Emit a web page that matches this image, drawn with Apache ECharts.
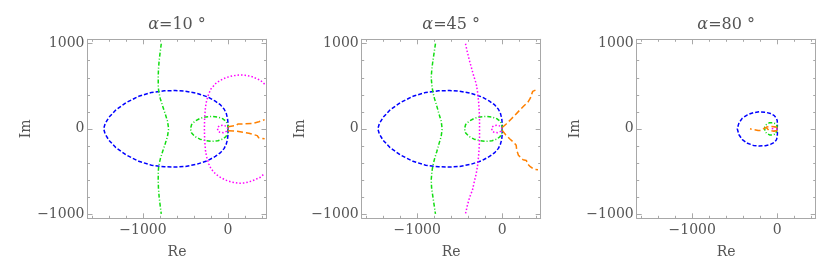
<!DOCTYPE html>
<html><head><meta charset="utf-8">
<script src="https://cdn.jsdelivr.net/npm/echarts@6/dist/echarts.min.js"></script>
<style>html,body{margin:0;padding:0;background:#fff}#c{width:830px;height:276px}</style>
</head><body><div id="c"></div>
<script>
// ---- tick labels / titles ----
const panelAngles = ['10', '45', '80'];
const xMajorTicks = [-1000, 0];
const yMajorTicks = [-1000, 0, 1000];
const xMinorTicks = [-1600, -1400, -1200, -800, -600, -400, -200, 200, 400];
const yMinorTicks = [-800, -600, -400, -200, 200, 400, 600, 800];

// ---- alpha = 10 deg ----
const blue10 = [[0,0],[0,60],[-6,120],[-20,178],[-45,230],[-88,280],[-150,325],[-240,375],[-370,418],[-500,442],[-620,450],[-750,446],[-900,428],[-1050,382],[-1200,306],[-1320,220],[-1400,135],[-1445,60],[-1462,0],
  [-1445,-60],[-1400,-135],[-1320,-220],[-1200,-306],[-1050,-382],[-900,-428],[-750,-446],[-620,-450],[-500,-442],[-370,-418],[-240,-375],[-150,-325],[-88,-280],[-45,-230],[-20,-178],[-6,-120],[0,-60],[0,0]];
const greenLine10 = [[-785,1000],[-798,900],[-810,800],[-818,700],[-821,600],[-820,500],[-814,430],[-795,350],[-770,270],[-740,180],[-712,90],[-698,0],[-712,-90],[-740,-180],[-770,-270],[-795,-350],[-814,-430],[-820,-500],[-821,-600],[-818,-700],[-810,-800],[-798,-900],[-785,-1000]];
const greenLoop10 = [[0,0],[-5,50],[-25,90],[-65,120],[-120,138],[-190,145],[-260,140],[-330,122],[-390,90],[-428,50],[-442,0],[-428,-50],[-390,-90],[-330,-122],[-260,-140],[-190,-147],[-120,-140],[-65,-122],[-25,-92],[-5,-50],[0,0]];
const magentaArc10 = [[430,525],[380,570],[285,612],[200,630],[127,633],[50,622],[-29,600],[-100,565],[-147,530],[-200,470],[-226,414],[-252,330],[-265,256],[-275,130],[-278,0],[-275,-130],[-265,-256],[-252,-330],[-226,-414],[-200,-470],[-147,-530],[-100,-565],[-29,-603],[50,-628],[127,-640],[200,-636],[285,-612],[380,-570],[430,-525]];
const magentaLoop10 = [[0,0],[-20,30],[-55,42],[-95,38],[-122,20],[-130,0],[-122,-22],[-95,-42],[-55,-45],[-20,-30],[0,0]];
const orangeUp10 = [[0,25],[90,38],[115,55],[285,62],[300,78],[362,82],[375,98],[430,108]];
const orangeDn10 = [[0,-22],[107,-30],[130,-48],[245,-52],[260,-72],[343,-80],[360,-105],[430,-118]];

// ---- alpha = 45 deg ----
const blue45 = [[0,0],[0,60],[-6,120],[-20,178],[-45,230],[-88,280],[-150,325],[-240,375],[-370,418],[-500,442],[-620,450],[-750,446],[-900,428],[-1050,382],[-1200,306],[-1320,220],[-1400,135],[-1445,60],[-1462,0],
  [-1445,-60],[-1400,-135],[-1320,-220],[-1200,-306],[-1050,-382],[-900,-428],[-750,-446],[-620,-450],[-500,-442],[-370,-418],[-240,-375],[-150,-325],[-88,-280],[-45,-230],[-20,-178],[-6,-120],[0,-60],[0,0]];
const greenLine45 = [[-785,1000],[-800,900],[-815,800],[-828,700],[-835,600],[-826,500],[-815,430],[-795,350],[-770,270],[-745,180],[-718,90],[-706,0],[-718,-90],[-745,-180],[-770,-270],[-795,-350],[-815,-430],[-826,-500],[-835,-600],[-830,-700],[-815,-800],[-800,-900],[-785,-1000]];
const greenLoop45 = [[0,0],[-5,50],[-25,90],[-65,120],[-120,138],[-190,145],[-260,140],[-330,122],[-390,90],[-430,50],[-444,0],[-430,-50],[-390,-90],[-330,-122],[-260,-140],[-190,-147],[-120,-140],[-65,-122],[-25,-92],[-5,-50],[0,0]];
const magentaLine45 = [[-432,1000],[-410,900],[-385,800],[-360,710],[-335,620],[-306,530],[-290,430],[-278,320],[-270,200],[-267,100],[-267,0],[-267,-100],[-270,-200],[-278,-320],[-290,-430],[-306,-530],[-326,-610],[-350,-720],[-385,-810],[-410,-900],[-432,-1000]];
const magentaLoop45 = [[0,0],[-20,30],[-55,42],[-95,38],[-122,20],[-130,0],[-122,-22],[-95,-42],[-55,-45],[-20,-30],[0,0]];
const orangeUp45 = [[0,15],[50,60],[100,110],[150,160],[204,218],[250,265],[304,316],[330,360],[341,394],[352,410],[358,440],[375,455],[400,460],[420,462]];
const orangeDn45 = [[0,-20],[40,-70],[90,-120],[140,-165],[164,-194],[170,-250],[190,-310],[215,-335],[245,-363],[284,-372],[295,-410],[304,-432],[330,-445],[345,-455],[360,-468],[390,-478],[420,-480]];

// ---- alpha = 80 deg ----
const blue80 = [[0,0],[2,50],[0,95],[-10,125],[-35,155],[-80,180],[-140,195],[-210,200],[-280,190],[-350,165],[-410,125],[-450,70],[-470,0],[-450,-70],[-410,-128],[-350,-170],[-280,-195],[-210,-203],[-140,-198],[-80,-184],[-35,-160],[-10,-130],[0,-96],[2,-50],[0,0]];
const greenLoop80 = [[0,0],[-3,35],[-20,60],[-55,72],[-95,70],[-128,50],[-148,20],[-150,0],[-145,-25],[-125,-55],[-90,-72],[-50,-72],[-18,-58],[-3,-35],[0,0]];
const magentaLoop80 = [[0,0],[-10,25],[-30,35],[-50,25],[-56,0],[-50,-25],[-30,-38],[-10,-25],[0,0]];
const orangeA80 = [[0,15],[-30,25],[-70,28],[-125,20],[-150,8],[-165,-10],[-185,-20],[-225,-20],[-240,0],[-320,0]];
const orangeB80 = [[0,-20],[-40,-30],[-60,-35],[-75,-22],[-100,-15],[-130,15]];

const panels = [
  {blue: blue10, green: [greenLine10, greenLoop10], magenta: [magentaArc10, magentaLoop10], orange: [orangeUp10, orangeDn10]},
  {blue: blue45, green: [greenLine45, greenLoop45], magenta: [magentaLine45, magentaLoop45], orange: [orangeUp45, orangeDn45]},
  {blue: blue80, green: [greenLoop80], magenta: [magentaLoop80], orange: [orangeA80, orangeB80]}
];

const gridLefts = [87.5, 361.7, 636.7];
const gridTop = 39.3, gridSize = 179;
const XMIN = -1652, XMAX = 452, YMIN = -1052, YMAX = 1052;
const FRAME = '#a8a8a8', LABEL = '#555555', FONT = 'DejaVu Serif';
const fmt = v => String(v).replace('-', '\u2212');

const styles = {
  blue: {color: '#0000ff', type: [4, 2]},
  green: {color: '#11dd11', type: [4, 2, 1, 2]},
  magenta: {color: '#ff00ff', type: [1.5, 2]},
  orange: {color: '#ff8000', type: [6, 3]}
};

const grid = [], xAxis = [], yAxis = [], series = [], graphic = [];
gridLefts.forEach((left, i) => {
  grid.push({left: left, top: gridTop, width: gridSize, height: gridSize, show: false});
  const mk = (pos, major, showLine, isX) => {
    const ticks = major ? (isX ? xMajorTicks : yMajorTicks) : (isX ? xMinorTicks : yMinorTicks);
    const main = major && (pos === 'bottom' || pos === 'left');
    const ax = {
      gridIndex: i, type: 'value', position: pos,
      min: isX ? XMIN : YMIN, max: isX ? XMAX : YMAX,
      axisLine: {show: showLine, onZero: false, lineStyle: {color: FRAME, width: 1}},
      axisTick: {show: true, inside: true, length: major ? 5 : 2.5, customValues: ticks, lineStyle: {color: FRAME, width: 1}},
      axisLabel: {show: main, customValues: ticks, formatter: fmt, color: LABEL, fontFamily: FONT, fontSize: 14, margin: isX ? 5 : 3},
      splitLine: {show: false}
    };
    if (main) {
      ax.name = isX ? 'Re' : 'Im';
      ax.nameLocation = 'middle';
      ax.nameGap = isX ? 27 : 52;
      ax.nameTextStyle = {color: LABEL, fontFamily: FONT, fontSize: 14};
    }
    return ax;
  };
  xAxis.push(mk('bottom', true, true, true), mk('bottom', false, false, true), mk('top', true, true, true), mk('top', false, false, true));
  yAxis.push(mk('left', true, true, false), mk('left', false, false, false), mk('right', true, true, false), mk('right', false, false, false));

  const p = panels[i];
  const add = (data, key) => series.push({
    type: 'line', xAxisIndex: i * 4, yAxisIndex: i * 4, data: data,
    showSymbol: false, symbol: 'none', smooth: false, silent: true, animation: false,
    lineStyle: {color: styles[key].color, width: 1.5, type: styles[key].type}
  });
  add(p.blue, 'blue');
  p.green.forEach(d => add(d, 'green'));
  p.magenta.forEach(d => add(d, 'magenta'));
  p.orange.forEach(d => add(d, 'orange'));

  graphic.push({
    type: 'text', x: left + gridSize / 2, y: 25,
    style: {
      text: '{a|\u03b1}=' + panelAngles[i] + ' \u00b0',
      align: 'center', verticalAlign: 'middle',
      fill: LABEL, font: '16px "' + FONT + '"',
      rich: {a: {fontStyle: 'italic', fontFamily: FONT, fontSize: 16, fill: LABEL}}
    }
  });
});

const chart = echarts.init(document.getElementById('c'), null, {renderer: 'canvas'});
chart.setOption({animation: false, grid, xAxis, yAxis, series, graphic});
</script>
</body></html>
